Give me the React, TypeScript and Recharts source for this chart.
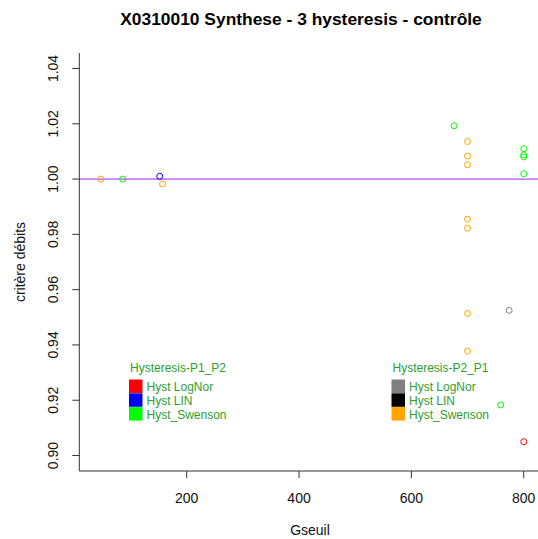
import React from 'react';
import { ScatterChart, Scatter, XAxis, YAxis, ReferenceLine } from 'recharts';

// P1_P2 series
const lognorP1P2 = [{ x: 800, y: 0.905 }];
const linP1P2 = [{ x: 152, y: 1.001 }];
const swensonP1P2 = [
  { x: 86, y: 1.0 },
  { x: 676, y: 1.0193 },
  { x: 800, y: 1.011 },
  { x: 800, y: 1.0088 },
  { x: 800, y: 1.008 },
  { x: 800, y: 1.0019 },
  { x: 759, y: 0.9183 },
];
// P2_P1 series
const lognorP2P1 = [{ x: 774, y: 0.9525 }];
const linP2P1: { x: number; y: number }[] = [];
const swensonP2P1 = [
  { x: 47, y: 1.0 },
  { x: 157, y: 0.9982 },
  { x: 700, y: 1.0136 },
  { x: 700, y: 1.0083 },
  { x: 700, y: 1.0052 },
  { x: 700, y: 0.9855 },
  { x: 700, y: 0.9822 },
  { x: 700, y: 0.9514 },
  { x: 700, y: 0.9378 },
];

const xTicks = [200, 400, 600, 800];
const yTicks = [0.9, 0.92, 0.94, 0.96, 0.98, 1.0, 1.02, 1.04];
const xDomain = [8.8, 830.4];
const yDomain = [0.8944, 1.0456];

const legend1 = { title: 'Hysteresis-P1_P2', items: [['Hyst LogNor', '#FF0000'], ['Hyst LIN', '#0000FF'], ['Hyst_Swenson', '#00FF00']] };
const legend2 = { title: 'Hysteresis-P2_P1', items: [['Hyst LogNor', '#808080'], ['Hyst LIN', '#000000'], ['Hyst_Swenson', '#FFA500']] };

const FONT = '"Liberation Sans", Arial, sans-serif';
const LEG_TXT = '#2E9E2E';

const circle = (color: string) => (props: any) => (
  <circle cx={props.cx} cy={props.cy} r={3} fill="none" stroke={color} strokeWidth={1} />
);

const XTick = (props: any) => (
  <text x={props.x} y={props.y} dy={25} textAnchor="middle" fontSize={14} fontFamily={FONT} fill="#111">
    {props.payload.value}
  </text>
);
const YTick = (props: any) => (
  <text
    x={0}
    y={0}
    transform={`translate(${props.x - 14},${props.y}) rotate(-90)`}
    textAnchor="middle"
    fontSize={14}
    fontFamily={FONT}
    fill="#111"
  >
    {props.payload.value.toFixed(2)}
  </text>
);

const Legend = ({ x, y, data }: { x: number; y: number; data: typeof legend1 }) => (
  <g>
    <text x={x + 1} y={y} fontSize={12} fontFamily={FONT} fill={LEG_TXT}>
      {data.title}
    </text>
    {data.items.map(([label, color], i) => (
      <g key={label}>
        <rect x={x} y={y + 7.5 + i * 13.8} width={13.5} height={13.5} fill={color} />
        <text x={x + 17.5} y={y + 19 + i * 13.8} fontSize={12} fontFamily={FONT} fill={LEG_TXT}>
          {label}
        </text>
      </g>
    ))}
  </g>
);

export default function App() {
  return (
    <div style={{ position: 'fixed', left: 0, top: 0, width: 538, height: 539, overflow: 'hidden', background: '#fff' }}>
      <ScatterChart width={568} height={539} margin={{ top: 53, right: 27.2, left: 0, bottom: 0 }}>
        <XAxis
          xAxisId="top"
          orientation="top"
          type="number"
          dataKey="x"
          domain={xDomain}
          allowDataOverflow
          tick={false}
          tickLine={false}
          height={0}
          stroke="#000"
        />
        <XAxis
          type="number"
          dataKey="x"
          domain={xDomain}
          allowDataOverflow
          ticks={xTicks}
          tick={<XTick />}
          tickSize={7}
          tickMargin={0}
          height={68}
          stroke="#333"
        />
        <YAxis
          type="number"
          dataKey="y"
          domain={yDomain}
          allowDataOverflow
          ticks={yTicks}
          tick={<YTick />}
          tickSize={7}
          tickMargin={0}
          width={79.3}
          stroke="#333"
        />
        <ReferenceLine y={1} stroke="#A020F0" strokeWidth={1} />
        <Scatter data={lognorP1P2} shape={circle('#FF0000')} isAnimationActive={false} />
        <Scatter data={linP1P2} shape={circle('#0000FF')} isAnimationActive={false} />
        <Scatter data={swensonP1P2} shape={circle('#00FF00')} isAnimationActive={false} />
        <Scatter data={lognorP2P1} shape={circle('#808080')} isAnimationActive={false} />
        <Scatter data={linP2P1} shape={circle('#000000')} isAnimationActive={false} />
        <Scatter data={swensonP2P1} shape={circle('#FFA500')} isAnimationActive={false} />
      </ScatterChart>
      <svg width={538} height={539} style={{ position: 'absolute', left: 0, top: 0, pointerEvents: 'none' }}>
        <text x={301} y={25} textAnchor="middle" fontSize={17.4} fontWeight="bold" fontFamily={FONT} fill="#000">
          X0310010 Synthese - 3 hysteresis - contrôle
        </text>
        <text x={310} y={535} textAnchor="middle" fontSize={14} fontFamily={FONT} fill="#111">
          Gseuil
        </text>
        <text transform="translate(25,262) rotate(-90)" textAnchor="middle" fontSize={14} fontFamily={FONT} fill="#111">
          critère débits
        </text>
        <Legend x={129} y={372} data={legend1} />
        <Legend x={391.5} y={372} data={legend2} />
      </svg>
    </div>
  );
}
